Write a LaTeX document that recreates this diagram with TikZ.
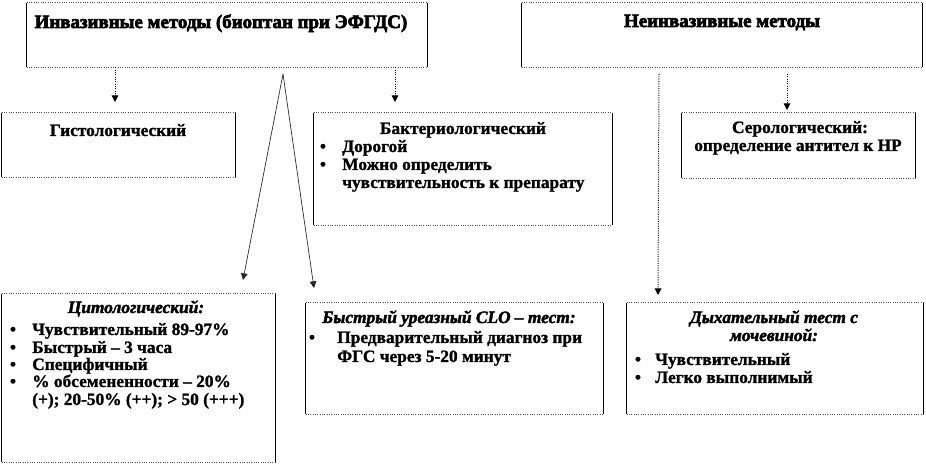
\documentclass[tikz,border=0pt]{standalone}
\usepackage{fontspec}
\setmainfont{Liberation Serif}[BoldFeatures={FakeBold=1.3},BoldItalicFeatures={FakeBold=2.2}]
\newfontfamily\headfont{Liberation Serif}[BoldFeatures={FakeBold=3.5}]
\usetikzlibrary{fit,arrows.meta}
\newcommand\edgesof[1]{%
  \draw[hz] (#1.north west) -- (#1.north east) (#1.south west) -- (#1.south east);
  \draw[vt] (#1.north west) -- (#1.south west) (#1.north east) -- (#1.south east);}
\begin{document}
\begin{tikzpicture}[x=0.75pt,y=-0.75pt,
  box/.style={inner sep=0pt, draw=none},
  hz/.style={line width=0.75pt, draw=black!70, densely dotted},
  vt/.style={line width=0.75pt, draw=black},
  conn/.style={line width=0.75pt, densely dotted, -{Triangle[width=5pt,length=5pt]}},
  diag/.style={line width=0.5pt, draw=black!85, -{Triangle[width=5pt,length=5pt]}},
  hd/.style={font=\headfont\fontsize{14.2}{16}\selectfont\bfseries, inner sep=0pt, anchor=base},
  tx/.style={font=\fontsize{13}{13.3}\selectfont\bfseries, inner sep=0pt, anchor=base},
  txi/.style={tx, font=\fontsize{13}{13.3}\selectfont\bfseries\itshape},
  txl/.style={tx, anchor=base west},
]
\useasboundingbox (0,0) rectangle (926,466);
\fill[white] (0,0) rectangle (926,466);

% boxes
\node[box, fit={(27,3) (427,67)}] (inv) {};
\node[box, fit={(522,3) (922,67)}] (non) {};
\node[box, fit={(2,113) (235,177)}] (gist) {};
\node[box, fit={(314,113) (612,225)}] (bact) {};
\node[box, fit={(682,113) (915,178)}] (sero) {};
\node[box, fit={(2,294) (275,462)}] (cyto) {};
\node[box, fit={(306,303) (603,414)}] (rapid) {};
\node[box, fit={(627,303) (923,414)}] (breath) {};
\edgesof{inv}\edgesof{non}\edgesof{gist}\edgesof{bact}
\edgesof{sero}\edgesof{cyto}\edgesof{rapid}\edgesof{breath}

% connectors
\coordinate (a1e) at (115,102);
\coordinate (a2e) at (395,102);
\coordinate (a3s) at (787,74);
\coordinate (a3e) at (787,110);
\coordinate (a4s) at (659,74);
\coordinate (a4e) at (658,295);
\coordinate (ap) at (283,74);
\coordinate (d1e) at (243,280);
\coordinate (d2e) at (314,288);
\draw[conn] (inv.south -| a1e) -- (a1e);
\draw[conn] (inv.south -| a2e) -- (a2e);
\draw[conn] (a3s) -- (a3e);
\draw[conn] (a4s) -- (a4e);
\draw[diag] (ap) -- (d1e);
\draw[diag] (ap) -- (d2e);

% texts
\node[hd] (t-inv) at (221,28) {Инвазивные методы (биоптан при ЭФГДС)};
\node[hd] (t-non) at (722,27) {Неинвазивные методы};
\node[tx] (t-gist) at (118,136) {Гистологический};

\node[tx] (t-bact) at (463,134) {Бактериологический};
\node[tx] (b-b1) at (323,152) {•};
\node[txl] (t-b1) at (342,152) {Дорогой};
\node[tx] (b-b2) at (323,170) {•};
\node[txl] (t-b2) at (342,170) {Можно определить};
\node[txl] (t-b3) at (342,188) {чувствительность к препарату};

\node[tx] (t-sero1) at (800,133) {Серологический:};
\node[tx] (t-sero2) at (798,151) {определение антител к HP};

\node[txi] (t-cyto) at (136,313) {Цитологический:};
\node[tx] (b-c1) at (13,335) {•};
\node[txl] (t-c1) at (32,335) {Чувствительный 89-97\%};
\node[tx] (b-c2) at (13,353) {•};
\node[txl] (t-c2) at (32,353) {Быстрый – 3 часа};
\node[tx] (b-c3) at (13,370) {•};
\node[txl] (t-c3) at (32,370) {Специфичный};
\node[tx] (b-c4) at (13,387) {•};
\node[txl] (t-c4) at (32,387) {\% обсемененности – 20\%};
\node[txl] (t-c5) at (32,405) {(+); 20-50\% (++); > 50 (+++)};

\node[txi] (t-rapid) at (449,323) {Быстрый уреазный CLO – тест:};
\node[tx] (b-r1) at (312,343) {•};
\node[txl] (t-r1) at (337,343) {Предварительный диагноз при};
\node[txl] (t-r2) at (337,362) {ФГС через 5-20 минут};

\node[txi] (t-br1) at (774,323) {Дыхательный тест с};
\node[txi] (t-br2) at (774,341) {мочевиной:};
\node[tx] (b-br1) at (638,365) {•};
\node[txl] (t-br3) at (655,365) {Чувствительный};
\node[tx] (b-br2) at (638,383) {•};
\node[txl] (t-br4) at (655,383) {Легко выполнимый};
\end{tikzpicture}
\end{document}
